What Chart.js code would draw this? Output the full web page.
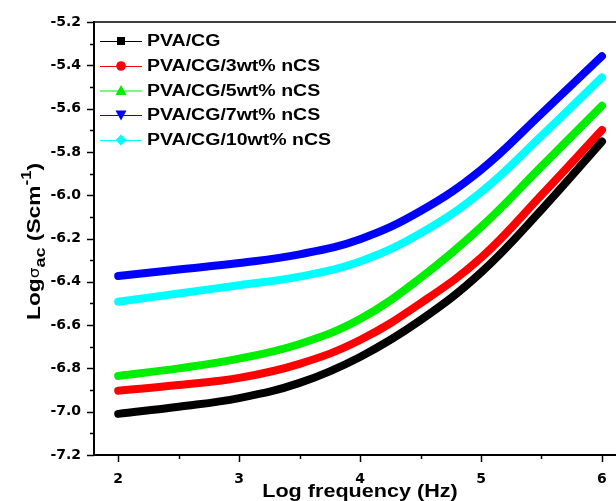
<!DOCTYPE html>
<html>
<head>
<meta charset="utf-8">
<script src="https://cdn.jsdelivr.net/npm/chart.js@4/dist/chart.umd.min.js"></script>
<style>
  html, body { margin: 0; padding: 0; background: #fff; }
  #wrap { width: 616px; height: 501px; position: relative; }
</style>
</head>
<body>
<div id="wrap"><canvas id="acChart" width="616" height="501"></canvas></div>
<script>
// log frequency (Hz)
const logFreq = [2, 2.5, 3, 3.5, 4, 4.5, 5, 5.5, 6];

// log sigma_ac for each film
const pvaCG = [-7.01, -6.977, -6.937, -6.867, -6.747, -6.577, -6.357, -6.067, -5.752];
const nCS3  = [-6.903, -6.877, -6.844, -6.779, -6.669, -6.499, -6.289, -5.999, -5.699];
const nCS5  = [-6.835, -6.80, -6.755, -6.687, -6.572, -6.382, -6.147, -5.867, -5.587];
const nCS7  = [-6.373, -6.343, -6.313, -6.273, -6.203, -6.073, -5.883, -5.623, -5.358];
const nCS10 = [-6.492, -6.454, -6.416, -6.376, -6.306, -6.176, -5.986, -5.726, -5.456];

const seriesNames  = ['PVA/CG', 'PVA/CG/3wt% nCS', 'PVA/CG/5wt% nCS', 'PVA/CG/7wt% nCS', 'PVA/CG/10wt% nCS'];
const seriesValues = [pvaCG, nCS3, nCS5, nCS7, nCS10];
const seriesColors = ['#000000', '#ff0000', '#00ee00', '#0000ff', '#00ffff'];
const seriesShapes = ['rect', 'circle', 'triangle', 'triangleDown', 'rectRot'];

const yTicks = [-7.2, -7.0, -6.8, -6.6, -6.4, -6.2, -6.0, -5.8, -5.6, -5.4, -5.2];
const xTicks = [2, 3, 4, 5, 6];

const TEXT_FONT = '"Liberation Sans", Arial, sans-serif';
const STRETCH = 1.22; // glyphs in this figure are wider than plain Arial

function toPoints(vals) {
    return logFreq.map((x, i) => ({ x: x, y: vals[i] }));
}

// small marker for the legend
function drawMarker(ctx, shape, cx, cy, color) {
    ctx.fillStyle = color;
    ctx.beginPath();
    if (shape === 'rect') {
        ctx.rect(cx - 4, cy - 4, 8, 8);
    } else if (shape === 'circle') {
        ctx.arc(cx, cy, 4.8, 0, Math.PI * 2);
    } else if (shape === 'triangle') {
        ctx.moveTo(cx, cy - 5.5); ctx.lineTo(cx + 5.5, cy + 4.5); ctx.lineTo(cx - 5.5, cy + 4.5);
    } else if (shape === 'triangleDown') {
        ctx.moveTo(cx, cy + 5.5); ctx.lineTo(cx + 5.5, cy - 4.5); ctx.lineTo(cx - 5.5, cy - 4.5);
    } else {
        ctx.moveTo(cx, cy - 5.5); ctx.lineTo(cx + 5.5, cy); ctx.lineTo(cx, cy + 5.5); ctx.lineTo(cx - 5.5, cy);
    }
    ctx.closePath();
    ctx.fill();
}

// axis frame: top line plus major / minor tick marks
const framePlugin = {
    id: 'frame',
    afterDraw(chart) {
        const { ctx, chartArea, scales } = chart;
        ctx.save();
        ctx.strokeStyle = '#000';
        ctx.lineWidth = 1.6;
        ctx.beginPath();
        ctx.moveTo(chartArea.left, chartArea.top);
        ctx.lineTo(chart.width, chartArea.top);
        ctx.stroke();

        ctx.lineWidth = 1.5;
        for (let i = 0; i <= 20; i++) {
            const v = -7.2 + i * 0.1;
            const py = Math.round(scales.y.getPixelForValue(v)) + 0.5;
            const len = i % 2 === 0 ? 7 : 4;
            ctx.beginPath();
            ctx.moveTo(chartArea.left - len, py);
            ctx.lineTo(chartArea.left, py);
            ctx.stroke();
        }
        for (let v = 2; v <= 6; v += 0.5) {
            const px = Math.round(scales.x.getPixelForValue(v)) + 0.5;
            const len = Number.isInteger(v) ? 7 : 4;
            ctx.beginPath();
            ctx.moveTo(px, chartArea.bottom);
            ctx.lineTo(px, chartArea.bottom + len);
            ctx.stroke();
        }
        ctx.restore();
    }
};

// legend in the upper left corner of the plot
const legendPlugin = {
    id: 'cornerLegend',
    afterDraw(chart) {
        const { ctx } = chart;
        const rowY = [41, 66, 90.5, 115, 140];
        ctx.save();
        chart.data.datasets.forEach((ds, i) => {
            const y = rowY[i];
            ctx.strokeStyle = ds.borderColor;
            ctx.lineWidth = 1;
            ctx.beginPath();
            ctx.moveTo(100, y + 0.5);
            ctx.lineTo(142, y + 0.5);
            ctx.stroke();
            drawMarker(ctx, seriesShapes[i], 121, y, ds.borderColor);

            ctx.save();
            ctx.translate(147, y);
            ctx.scale(STRETCH, 1);
            ctx.fillStyle = '#000';
            ctx.font = 'bold 16px ' + TEXT_FONT;
            ctx.textBaseline = 'middle';
            ctx.fillText(ds.label, 0, 1);
            ctx.restore();
        });
        ctx.restore();
    }
};

// axis titles, the y one with sub- and superscripts
const titlePlugin = {
    id: 'axisTitles',
    afterDraw(chart) {
        const { ctx, chartArea } = chart;
        ctx.save();
        ctx.fillStyle = '#000';

        // x title
        ctx.save();
        ctx.translate((chartArea.left + chartArea.right) / 2 + 5, 492);
        ctx.scale(1.2, 1);
        ctx.font = 'bold 18px ' + TEXT_FONT;
        ctx.textAlign = 'center';
        ctx.textBaseline = 'middle';
        ctx.fillText('Log frequency (Hz)', 0, 0);
        ctx.restore();

        // y title, rotated, written from the bottom up
        const parts = [
            { t: 'Log', f: 'bold 19px ' + TEXT_FONT, dy: 0 },
            { t: 'σ', f: '14px "DejaVu Sans", sans-serif', dy: -1 },
            { t: 'ac', f: 'bold 15px ' + TEXT_FONT, dy: 5 },
            { t: ' (Scm', f: 'bold 19px ' + TEXT_FONT, dy: 0 },
            { t: '-1', f: 'bold 14px ' + TEXT_FONT, dy: -9 },
            { t: ')', f: 'bold 19px ' + TEXT_FONT, dy: 0 }
        ];
        ctx.translate(40, 320);
        ctx.rotate(-Math.PI / 2);
        ctx.scale(1.2, 1);
        ctx.textBaseline = 'alphabetic';
        let x = 0;
        parts.forEach(p => {
            ctx.font = p.f;
            ctx.fillText(p.t, x, p.dy);
            x += ctx.measureText(p.t).width;
        });
        ctx.restore();
    }
};

new Chart(document.getElementById('acChart'), {
    type: 'line',
    data: {
        datasets: seriesNames.map((name, i) => ({
            label: name,
            data: toPoints(seriesValues[i]),
            borderColor: seriesColors[i],
            backgroundColor: seriesColors[i],
            borderWidth: 8,
            borderCapStyle: 'round',
            tension: 0.4,
            pointRadius: 0,
            fill: false
        }))
    },
    options: {
        responsive: false,
        animation: false,
        devicePixelRatio: 1,
        layout: { padding: { left: 0, right: 0, top: 22, bottom: 0 } },
        plugins: {
            legend: { display: false },
            tooltip: { enabled: false }
        },
        scales: {
            x: {
                type: 'linear',
                min: 1.8,
                max: 6.116,
                afterBuildTicks: s => { s.ticks = xTicks.map(v => ({ value: v })); },
                afterFit: s => { s.height = 46; },
                // tick marks are drawn by the frame plugin; tickLength only spaces the labels
                grid: { display: false, drawTicks: true, tickLength: 15 },
                border: { display: true, color: '#000', width: 2 },
                ticks: {
                    color: '#000',
                    padding: 1,
                    maxRotation: 0,
                    font: { family: '"DejaVu Sans", sans-serif', size: 14, weight: 'bold' },
                    callback: v => String(v)
                }
            },
            y: {
                type: 'linear',
                min: -7.2,
                max: -5.2,
                afterBuildTicks: s => { s.ticks = yTicks.map(v => ({ value: v })); },
                afterFit: s => { s.width = 94; },
                grid: { display: false, drawTicks: false },
                border: { display: true, color: '#000', width: 2 },
                ticks: {
                    color: '#000',
                    padding: 13,
                    font: { family: '"DejaVu Sans", sans-serif', size: 14, weight: 'bold' },
                    callback: v => v.toFixed(1)
                }
            }
        }
    },
    plugins: [framePlugin, legendPlugin, titlePlugin]
});
</script>
</body>
</html>
